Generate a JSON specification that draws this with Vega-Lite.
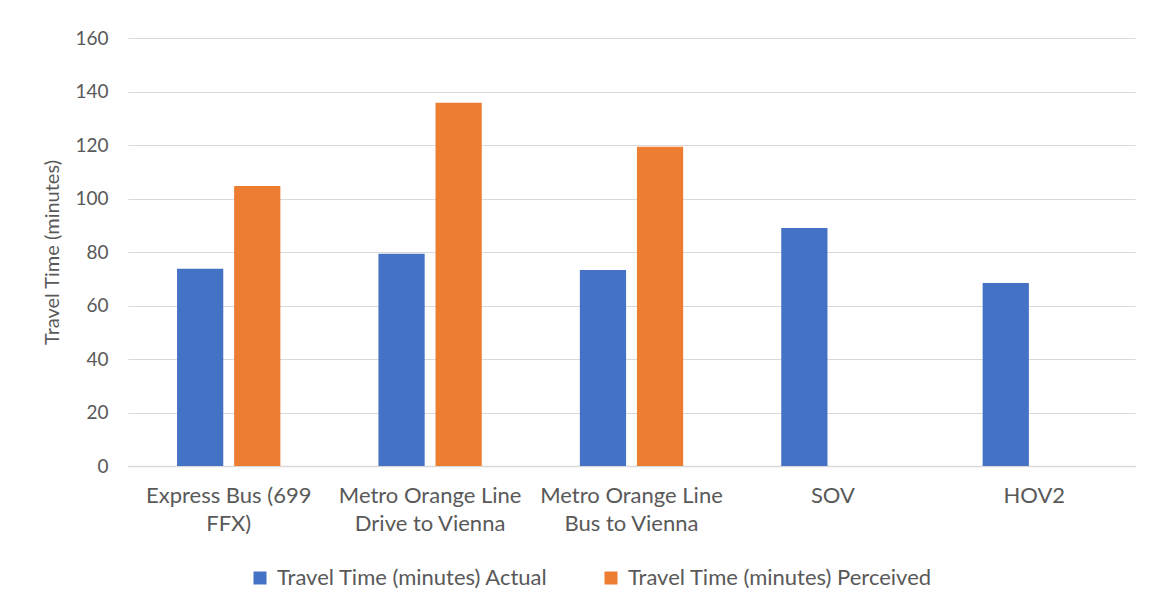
{
  "$schema": "https://vega.github.io/schema/vega-lite/v6.json",
  "width": 1007,
  "height": 428,
  "autosize": {"type": "none"},
  "padding": {"left": 128, "top": 38, "right": 21, "bottom": 147},
  "background": "white",
  "data": {
    "values": [
      {"mode": "Express Bus (699|FFX)", "series": "Travel Time (minutes) Actual", "value": 73.7},
      {"mode": "Express Bus (699|FFX)", "series": "Travel Time (minutes) Perceived", "value": 104.7},
      {"mode": "Metro Orange Line|Drive to Vienna", "series": "Travel Time (minutes) Actual", "value": 79.3},
      {"mode": "Metro Orange Line|Drive to Vienna", "series": "Travel Time (minutes) Perceived", "value": 135.8},
      {"mode": "Metro Orange Line|Bus to Vienna", "series": "Travel Time (minutes) Actual", "value": 73.3},
      {"mode": "Metro Orange Line|Bus to Vienna", "series": "Travel Time (minutes) Perceived", "value": 119.3},
      {"mode": "SOV", "series": "Travel Time (minutes) Actual", "value": 89.0},
      {"mode": "HOV2", "series": "Travel Time (minutes) Actual", "value": 68.4}
    ]
  },
  "mark": {"type": "bar"},
  "encoding": {
    "x": {
      "field": "mode",
      "type": "nominal",
      "sort": null,
      "scale": {"paddingInner": 0.487, "paddingOuter": 0.2435},
      "axis": {
        "title": null,
        "labelAngle": 0,
        "labelExpr": "split(datum.label, '|')",
        "labelFontSize": 22,
        "labelColor": "#595959",
        "labelFont": "Lato",
        "labelPadding": 19,
        "labelLineHeight": 28,
        "ticks": false,
        "domainColor": "#d9d9d9",
        "domainWidth": 1.5,
        "labelLimit": 300
      }
    },
    "xOffset": {
      "field": "series",
      "type": "nominal",
      "scale": {"domain": ["Travel Time (minutes) Actual", "Travel Time (minutes) Perceived"], "paddingInner": 0.19, "paddingOuter": 0}
    },
    "y": {
      "field": "value",
      "type": "quantitative",
      "scale": {"domain": [0, 160]},
      "axis": {
        "title": "Travel Time (minutes)",
        "titleFont": "Lato",
        "titleFontSize": 20,
        "titleFontWeight": "normal",
        "titleColor": "#595959",
        "titlePadding": 12,
        "values": [0, 20, 40, 60, 80, 100, 120, 140, 160],
        "labelFontSize": 19,
        "labelColor": "#595959",
        "labelFont": "Lato",
        "labelPadding": 20,
        "domain": false,
        "ticks": false,
        "gridColor": "#d9d9d9",
        "gridWidth": 1
      }
    },
    "color": {
      "field": "series",
      "type": "nominal",
      "scale": {"domain": ["Travel Time (minutes) Actual", "Travel Time (minutes) Perceived"], "range": ["#4472c4", "#ed7d31"]},
      "legend": {
        "title": null,
        "orient": "none",
        "legendX": 121,
        "legendY": 529,
        "direction": "horizontal",
        "symbolType": "square",
        "symbolSize": 169,
        "symbolStrokeWidth": 0,
        "labelFont": "Lato",
        "labelFontSize": 22,
        "labelColor": "#595959",
        "labelLimit": 400,
        "columnPadding": 51,
        "labelOffset": 6
      }
    }
  },
  "config": {"view": {"stroke": null}}
}
